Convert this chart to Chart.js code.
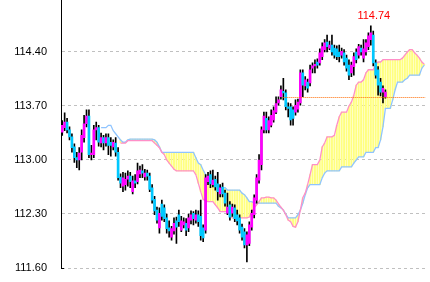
<!DOCTYPE html>
<html>
<head>
<meta charset="utf-8">
<script src="https://cdn.jsdelivr.net/npm/chart.js@4/dist/chart.umd.min.js"></script>
<style>
html,body{margin:0;padding:0;background:#fff;}
#wrap{width:430px;height:282px;}
</style>
</head>
<body>
<div id="wrap"><canvas id="c" width="430" height="282"></canvas></div>
<script>
// ---- data ----
const yTickValues = [111.60, 112.30, 113.00, 113.70, 114.40];
const yTickLabels = ['111.60', '112.30', '113.00', '113.70', '114.40'];
const yMin = 111.60, yMax = 115.074;
const lastPrice = 113.82;
const lastPriceLineStart = 91;
const slotCount = 150;

const open = [
113.36,113.42,113.49,113.39,113.30,113.17,113.03,113.00,113.10,113.29,
113.47,113.57,113.07,113.07,113.39,113.42,113.22,113.29,113.22,113.29,
113.23,113.17,113.22,113.10,112.78,112.66,112.68,112.75,112.79,112.59,
112.73,112.72,112.82,112.86,112.78,112.83,112.79,112.64,112.49,112.35,
112.12,112.43,112.38,112.25,112.12,112.00,112.08,112.21,112.29,112.09,
112.16,112.18,112.12,112.22,112.31,112.22,112.29,112.27,112.12,112.09,
112.72,112.81,112.68,112.75,112.69,112.56,112.65,112.57,112.31,112.42,
112.31,112.38,112.29,112.25,112.13,112.07,111.90,111.92,112.13,112.29,
112.48,112.74,112.94,113.39,113.54,113.39,113.45,113.52,113.62,113.74,
113.82,113.89,113.87,113.69,113.69,113.65,113.62,113.66,113.74,114.13,
113.96,114.01,114.00,114.19,114.22,114.27,114.26,114.34,114.43,114.53,
114.45,114.49,114.45,114.44,114.40,114.36,114.39,114.32,114.23,114.13,
114.21,114.40,114.36,114.45,114.32,114.40,114.47,114.56,114.62,114.26,
114.17,114.01,113.88,113.82
];
const high = [
113.51,113.61,113.54,113.43,113.34,113.21,113.10,113.16,113.39,113.58,
113.65,113.65,113.19,113.45,113.49,113.45,113.35,113.32,113.34,113.34,
113.29,113.26,113.29,113.16,112.82,112.84,112.83,112.86,112.84,112.79,
112.81,112.96,112.92,112.94,112.88,112.87,112.83,112.68,112.53,112.39,
112.38,112.48,112.42,112.30,112.21,112.14,112.25,112.26,112.35,112.27,
112.25,112.24,112.30,112.34,112.33,112.35,112.34,112.48,112.16,112.81,
112.84,112.86,112.87,112.79,112.84,112.68,112.70,112.61,112.57,112.46,
112.43,112.42,112.35,112.29,112.17,112.11,112.07,112.20,112.35,112.55,
112.81,113.07,113.43,113.62,113.62,113.56,113.65,113.69,113.82,113.82,
113.96,114.06,113.91,113.74,113.73,113.69,113.78,113.79,114.17,114.17,
114.08,114.05,114.23,114.26,114.30,114.31,114.44,114.52,114.56,114.62,
114.54,114.62,114.49,114.48,114.49,114.45,114.43,114.36,114.30,114.27,
114.39,114.44,114.50,114.49,114.56,114.56,114.65,114.74,114.67,114.30,
114.21,114.06,113.96,113.91
];
const low = [
113.32,113.38,113.35,113.26,113.10,112.97,112.90,112.87,113.00,113.23,
113.43,113.03,113.00,113.03,113.26,113.18,113.17,113.13,113.18,113.07,
113.05,113.13,113.05,112.74,112.64,112.59,112.61,112.66,112.64,112.56,
112.64,112.69,112.77,112.77,112.74,112.74,112.59,112.44,112.29,112.18,
112.05,112.22,112.20,112.05,112.00,111.96,112.04,111.92,112.14,112.07,
112.12,112.02,112.07,112.17,112.16,112.18,112.14,111.96,111.94,112.05,
112.68,112.64,112.65,112.61,112.48,112.52,112.52,112.40,112.29,112.22,
112.27,112.20,112.16,112.05,111.96,111.86,111.68,111.89,112.09,112.25,
112.44,112.70,112.87,113.35,113.35,113.35,113.43,113.49,113.60,113.71,
113.79,113.78,113.65,113.56,113.45,113.45,113.58,113.62,113.71,113.82,
113.91,113.88,113.96,114.13,114.13,114.19,114.23,114.30,114.40,114.40,
114.43,114.36,114.32,114.30,114.27,114.32,114.23,114.15,114.04,114.08,
114.10,114.26,114.32,114.36,114.27,114.36,114.43,114.49,114.22,114.06,
113.84,113.83,113.74,113.80
];
const close = [
113.45,113.49,113.39,113.30,113.16,113.03,113.00,113.09,113.32,113.47,
113.57,113.07,113.09,113.39,113.42,113.23,113.29,113.22,113.29,113.19,
113.19,113.23,113.10,112.77,112.70,112.77,112.75,112.79,112.72,112.73,
112.70,112.86,112.87,112.83,112.83,112.79,112.62,112.48,112.34,112.22,
112.31,112.27,112.24,112.11,112.08,112.11,112.18,112.13,112.20,112.21,
112.20,112.09,112.25,112.29,112.24,112.29,112.20,112.02,111.99,112.77,
112.79,112.69,112.74,112.65,112.59,112.64,112.56,112.44,112.39,112.26,
112.39,112.24,112.21,112.09,112.00,111.90,112.03,112.16,112.31,112.51,
112.77,113.00,113.39,113.57,113.39,113.51,113.58,113.64,113.73,113.78,
113.91,113.87,113.69,113.67,113.52,113.54,113.71,113.75,114.13,113.97,
114.04,113.93,114.17,114.22,114.24,114.23,114.39,114.47,114.52,114.47,
114.49,114.40,114.36,114.34,114.34,114.41,114.27,114.19,114.10,114.23,
114.34,114.30,114.47,114.40,114.44,114.52,114.61,114.65,114.26,114.10,
113.97,113.88,113.93,113.88
];
const spanA = [
null,null,null,null,null,null,null,null,null,null,
null,null,null,null,null,null,null,null,null,null,
null,null,null,null,113.22,113.22,113.22,113.25,113.25,113.25,
113.25,113.25,113.25,113.25,113.25,113.25,113.25,113.25,113.22,113.19,
113.16,113.10,113.07,113.00,112.96,112.92,112.88,112.86,112.86,112.86,
112.86,112.86,112.86,112.86,112.86,112.81,112.70,112.59,112.49,112.47,
112.46,112.46,112.46,112.42,112.38,112.33,112.33,112.33,112.33,112.29,
112.25,112.25,112.25,112.25,112.25,112.25,112.25,112.26,112.33,112.38,
112.42,112.46,112.51,112.51,112.52,112.52,112.51,112.51,112.48,112.43,
112.39,112.35,112.29,112.22,112.20,112.14,112.13,112.20,112.35,112.51,
112.57,112.68,112.81,112.94,112.94,112.94,113.00,113.17,113.22,113.30,
113.30,113.30,113.32,113.45,113.56,113.62,113.62,113.62,113.70,113.75,
113.84,113.97,114.01,114.01,114.04,114.13,114.17,114.17,114.17,114.24,
114.27,114.27,114.30,114.30,114.30,114.30,114.30,114.30,114.30,114.30,
114.32,114.36,114.40,114.43,114.43,114.39,114.36,114.32,114.27,114.24
];
const spanB = [
null,null,null,null,null,null,null,null,null,null,
null,null,null,null,null,null,113.42,113.42,113.42,113.45,
113.45,113.38,113.34,113.30,113.26,113.23,113.23,113.26,113.27,113.27,
113.27,113.27,113.27,113.27,113.27,113.27,113.27,113.27,113.26,113.23,
113.17,113.10,113.10,113.10,113.10,113.10,113.10,113.10,113.10,113.10,
113.10,113.10,113.10,113.10,113.10,113.03,112.96,112.94,112.87,112.81,
112.77,112.72,112.68,112.68,112.68,112.65,112.64,112.64,112.61,112.61,
112.61,112.61,112.61,112.61,112.57,112.55,112.51,112.46,112.46,112.44,
112.44,112.44,112.44,112.44,112.44,112.44,112.44,112.44,112.44,112.40,
112.38,112.35,112.30,112.25,112.25,112.25,112.25,112.29,112.35,112.44,
112.55,112.64,112.68,112.68,112.68,112.68,112.68,112.77,112.83,112.86,
112.86,112.86,112.86,112.86,112.86,112.91,112.91,112.91,112.91,112.91,
112.96,113.00,113.04,113.04,113.04,113.10,113.10,113.10,113.10,113.16,
113.16,113.26,113.43,113.67,113.67,113.67,113.78,113.91,114.01,114.01,
114.01,114.04,114.06,114.10,114.10,114.10,114.10,114.10,114.19,114.23
];
const categories = Array.from({length: slotCount}, (_, i) => String(i + 1));

// ---- derived tables for the library ----
const bodies = open.map((o, i) => [o, close[i]]);
const wicks = low.map((l, i) => [l, high[i]]);
const bodyColors = open.map((o, i) => close[i] >= o ? '#ff00ff' : '#00c8ff');
const cloud = spanA.map((a, i) => (a !== null && spanB[i] !== null) ? [a, spanB[i]] : null);

const FONT = '"Liberation Sans", Arial, sans-serif';

const overlay = {
  id: 'overlay',
  afterDatasetsDraw(chart) {
    const {ctx, chartArea, scales: {x, y}} = chart;
    // last price dotted line
    ctx.save();
    ctx.strokeStyle = '#ff6a00';
    ctx.lineWidth = 1;
    ctx.setLineDash([1, 1]);
    const ly = Math.round(y.getPixelForValue(lastPrice)) + 0.5;
    ctx.beginPath();
    ctx.moveTo(x.getPixelForValue(lastPriceLineStart), ly);
    ctx.lineTo(chartArea.right, ly);
    ctx.stroke();
    ctx.restore();
    // small tick at the foot of the axis
    ctx.save();
    ctx.strokeStyle = '#000000';
    ctx.lineWidth = 1;
    const by = Math.round(y.getPixelForValue(yMin)) + 0.5;
    ctx.beginPath();
    ctx.moveTo(chartArea.left, by);
    ctx.lineTo(chartArea.left + 3, by);
    ctx.stroke();
    ctx.restore();
    // highest-high label
    let hi = 0;
    high.forEach((h, i) => { if (h > high[hi]) hi = i; });
    ctx.save();
    ctx.fillStyle = '#ff0000';
    ctx.font = '11px ' + FONT;
    ctx.textAlign = 'center';
    ctx.textBaseline = 'bottom';
    ctx.fillText(high[hi].toFixed(2), x.getPixelForValue(hi) + 3, y.getPixelForValue(high[hi]) - 4);
    ctx.restore();
  }
};

new Chart(document.getElementById('c'), {
  type: 'bar',
  data: {
    labels: categories,
    datasets: [
      {
        type: 'bar', label: 'body', data: bodies, order: 1,
        backgroundColor: bodyColors, barThickness: 2, minBarLength: 1,
        grouped: false, borderWidth: 0
      },
      {
        type: 'bar', label: 'wick', data: wicks, order: 2,
        backgroundColor: '#000000', barThickness: 1, minBarLength: 1,
        grouped: false, borderWidth: 0
      },
      {
        type: 'line', label: 'spanA', data: spanA, order: 3,
        borderColor: '#ff8fc8', borderWidth: 1.3, pointRadius: 0, fill: false, tension: 0
      },
      {
        type: 'line', label: 'spanB', data: spanB, order: 4,
        borderColor: '#8fc4ff', borderWidth: 1.3, pointRadius: 0, fill: false, tension: 0
      },
      {
        type: 'bar', label: 'cloud', data: cloud, order: 5,
        backgroundColor: '#ffff80', barThickness: 1.3, grouped: false, borderWidth: 0
      }
    ]
  },
  options: {
    responsive: false,
    animation: false,
    events: [],
    layout: { padding: { left: 0, right: 4.5, top: 0, bottom: 14 } },
    plugins: { legend: { display: false }, tooltip: { enabled: false } },
    scales: {
      x: {
        display: false,
        offset: true,
        grid: { display: false }
      },
      y: {
        position: 'left',
        min: yMin,
        max: yMax,
        afterBuildTicks(scale) { scale.ticks = yTickValues.map(v => ({ value: v })); },
        afterFit(scale) { scale.width = 61; scale.paddingTop = 0; scale.paddingBottom = 0; },
        ticks: {
          padding: 14,
          color: '#000000',
          font: { family: FONT, size: 11 },
          callback: (v, i) => yTickLabels[i]
        },
        grid: { color: '#c0c0c0', drawTicks: false, tickLength: 0, lineWidth: 1 },
        border: { display: true, color: '#000000', width: 1, dash: [3, 3] }
      }
    }
  },
  plugins: [overlay]
});
</script>
</body>
</html>
